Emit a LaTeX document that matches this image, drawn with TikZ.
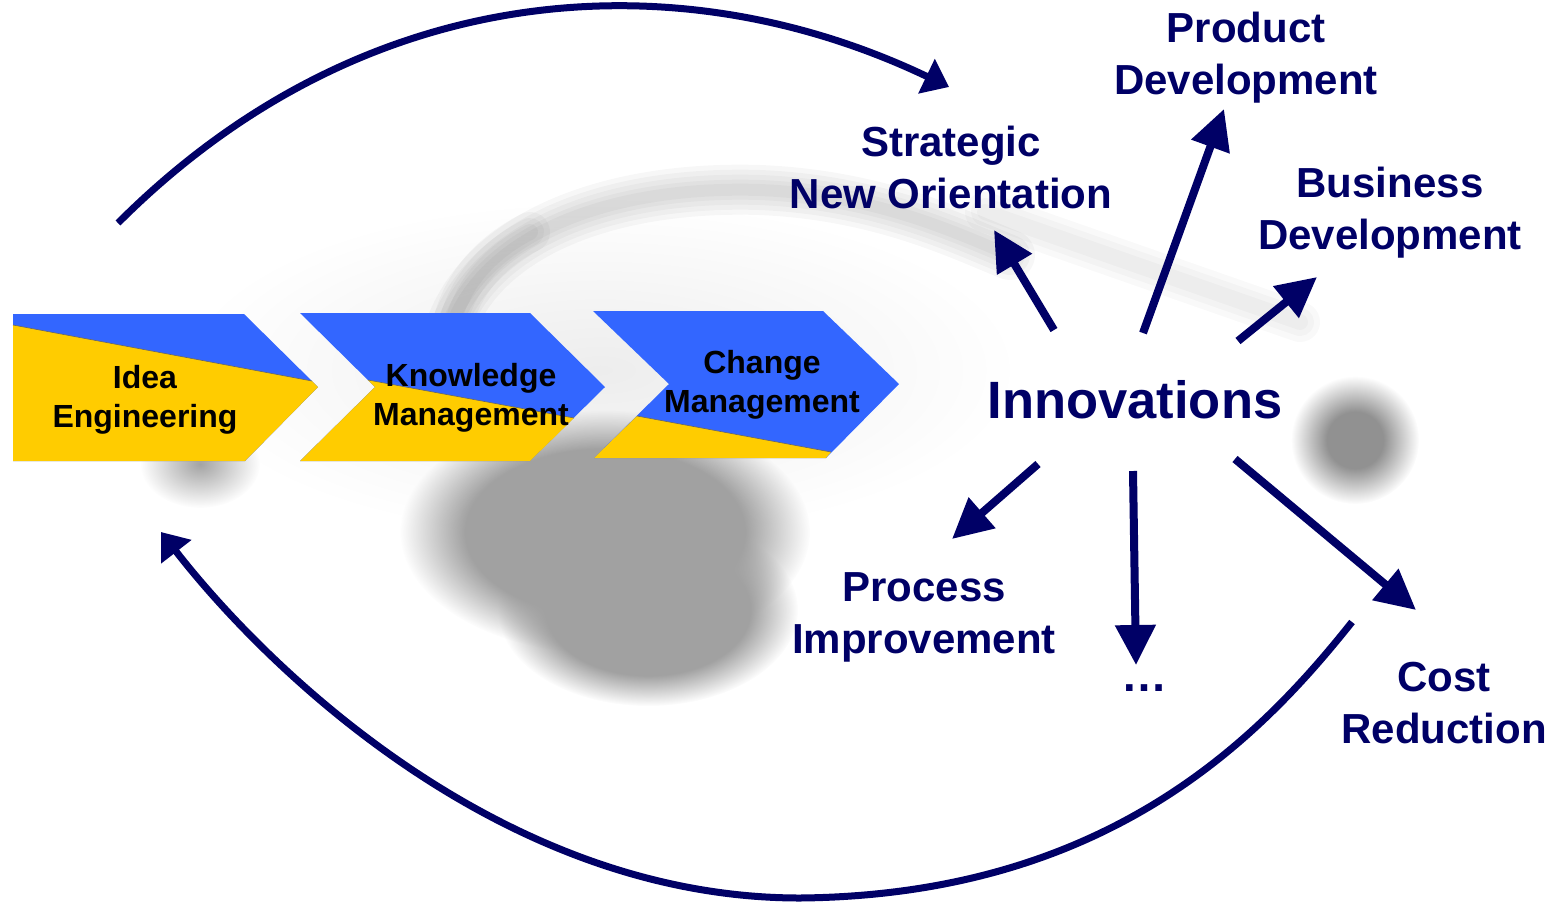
\documentclass[tikz,border=0pt]{standalone}
\usepackage{fontspec}
\setmainfont{Liberation Sans}
\usetikzlibrary{arrows.meta,fadings}

\definecolor{navy}{RGB}{0,0,102}
\definecolor{chevblue}{RGB}{51,102,255}
\definecolor{chevyellow}{RGB}{255,204,0}

% soft blobs for the blurred background
\pgfdeclareradialshading{blobshade}{\pgfpointorigin}{color(0bp)=(white); color(17bp)=(white); color(25bp)=(black); color(50bp)=(black)}
\pgfdeclarefading{blob}{\pgfuseshading{blobshade}}
\pgfdeclareradialshading{midshade}{\pgfpointorigin}{color(0bp)=(white); color(11bp)=(white); color(25bp)=(black); color(50bp)=(black)}
\pgfdeclarefading{midblob}{\pgfuseshading{midshade}}
\pgfdeclareradialshading{softshade}{\pgfpointorigin}{color(0bp)=(white); color(25bp)=(black); color(50bp)=(black)}
\pgfdeclarefading{soft}{\pgfuseshading{softshade}}

\tikzset{
  outcome/.style={navy, font=\fontsize{42}{51.5}\selectfont\bfseries, align=center, anchor=base, inner sep=0pt},
  chevtext/.style={black, font=\fontsize{32}{38.5}\selectfont\bfseries, align=center, anchor=base, inner sep=0pt},
  arr/.style={navy, line width=8pt, -{Triangle[length=40pt,width=39pt]}},
  cycarrow/.style={navy, line width=7pt, -{Triangle[length=25pt,width=37pt]}},
}

\begin{document}
\begin{tikzpicture}[x=1pt,y=-1pt]

\useasboundingbox (0,0) rectangle (1561,903);

% background
\fill[black!7, path fading=soft] (600,370) ellipse [x radius=420, y radius=170];
\foreach \w in {50pt,40pt,30pt,20pt,12pt}
  \draw[black, opacity=0.03, line width=\w, line cap=round] (445,345) .. controls (470,240) and (600,185) .. (760,190) .. controls (880,195) and (960,235) .. (1010,255);
\foreach \w in {40pt,28pt,16pt}
  \draw[black, opacity=0.03, line width=\w, line cap=round] (450,335) .. controls (458,290) and (485,255) .. (530,232);
\foreach \w in {40pt,28pt,16pt}
  \draw[black, opacity=0.025, line width=\w, line cap=round] (985,212) -- (1300,322);
\fill[black!37, path fading=blob] (605,532) ellipse [x radius=205, y radius=122];
\fill[black!37, path fading=blob] (648,610) ellipse [x radius=150, y radius=96];
\fill[black!43, path fading=midblob] (1355,440) ellipse [x radius=64, y radius=64];
\fill[black!36, path fading=soft] (200,464) ellipse [x radius=60, y radius=44];

% chevrons
\fill[chevblue] (13,314) -- (244,314) -- (318,387) -- (245,461) -- (13,461) -- cycle;
\fill[chevyellow] (13,325) -- (312,381) -- (318,387) -- (245,461) -- (13,461) -- cycle;
\draw[black!60, line width=0.6pt] (13,325) -- (312,381);

\fill[chevblue] (300,313) -- (530,313) -- (605,387) -- (530,461) -- (300,461) -- (375,387) -- cycle;
\fill[chevyellow] (368,380) -- (574,418) -- (530,461) -- (300,461) -- (375,387) -- cycle;
\draw[black!60, line width=0.6pt] (368,380) -- (574,418);

\fill[chevblue] (593,311) -- (823,311) -- (899,384) -- (826,458) -- (594,458) -- (669,384) -- cycle;
\fill[chevyellow] (637,416) -- (831,452) -- (826,458) -- (594,458) -- cycle;
\draw[black!60, line width=0.6pt] (637,416) -- (831,452);

\node[chevtext] (idea) at (145,427) {Idea\\Engineering};
\node[chevtext] (knowledge) at (471,425) {Knowledge\\Management};
\node[chevtext] (change) at (762,412) {Change\\Management};

% innovations and outcomes
\node[navy, font=\fontsize{52.5}{60}\selectfont\bfseries, anchor=base, inner sep=0pt] (innov) at (1135,418) {Innovations};

\node[outcome] (strategic) at (951,208) {Strategic\\New Orientation};
\node[outcome] (product) at (1246,94) {Product\\Development};
\node[outcome] (business) at (1390,249) {Business\\Development};
\node[outcome] (process) at (924,653) {Process\\Improvement};
\node[outcome] (cost) at (1444,743) {Cost\\Reduction};
\node[navy, font=\fontsize{46}{46}\selectfont\bfseries, anchor=base, inner sep=0pt] (more) at (1144.5,691) {…};

\coordinate (strfrom) at (1054,330);
\coordinate (strto) at (994,230);
\coordinate (profrom) at (1143,333);
\coordinate (proto) at (1224,109);
\coordinate (busfrom) at (1238,341);
\coordinate (busto) at (1317,277);
\coordinate (procfrom) at (1038,464);
\coordinate (procto) at (952,539);
\coordinate (morefrom) at (1133,471);
\coordinate (moreto) at (1136,665);
\coordinate (costfrom) at (1235,459);
\coordinate (costto) at (1416,610);

\draw[arr] (strfrom) -- (strto);
\draw[arr] (profrom) -- (proto);
\draw[arr] (busfrom) -- (busto);
\draw[arr] (procfrom) -- (procto);
\draw[arr] (morefrom) -- (moreto);
\draw[arr] (costfrom) -- (costto);

% the two big loop arrows
\coordinate (topstart) at (118,223);
\coordinate (topend) at (949,87);
\draw[cycarrow] (topstart) .. controls (365,-24) and (679,-42) .. (topend);

\coordinate (botstart) at (1352,622);
\coordinate (botmid) at (800,898);
\coordinate (botend) at (161,532);
\draw[cycarrow] (botstart) .. controls (1262,735) and (1110,895) .. (botmid)
  .. controls (500,898) and (265,666) .. (botend);

\end{tikzpicture}
\end{document}
